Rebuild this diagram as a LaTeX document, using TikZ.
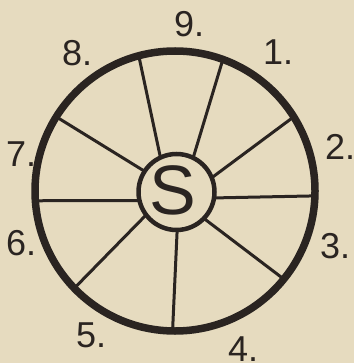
\documentclass[tikz,border=0pt]{standalone}
\usepackage{fontspec}
\setmainfont{Liberation Sans}
\definecolor{paper}{HTML}{E6DBBF}
\definecolor{ink}{HTML}{2A2421}
\begin{document}
\begin{tikzpicture}[x=1pt,y=-1pt,
  ring/.style={circle,draw=ink,inner sep=0pt,outer sep=0pt},
  spoke/.style={draw=ink,line width=3pt},
  lbl/.style={anchor=base west,inner sep=0pt,text=ink,font=\fontsize{36}{36}\selectfont}]
\fill[paper] (0,0) rectangle (354,363);
\useasboundingbox (0,0) rectangle (354,363);
\clip (0,0) rectangle (354,363);
\node[ring,line width=7.5pt,minimum size=280pt] (rim) at (175,191) {};
\node[ring,line width=4.5pt,minimum size=76pt] (hub) at (176.5,192) {};
\node[anchor=base,inner sep=0pt,text=ink,font=\fontsize{70}{70}\selectfont] (s) at (173,214) {S};
\foreach \a/\b in {105.7/115.4, 70.4/64.6, 32.8/22.3, -2.8/-9.1, -39.1/-44.5,
                   269.2/-89.2, 224.7/217.8, 184.1/193.2, 148.6/147.5}
  \draw[spoke] (hub.\b) -- (rim.\a);
\node[lbl] (n1) at (263,65) {1.};
\node[lbl] (n2) at (325,160) {2.};
\node[lbl] (n3) at (320,258) {3.};
\node[lbl] (n4) at (228,361) {4.};
\node[lbl] (n5) at (76,347) {5.};
\node[lbl] (n6) at (6,255) {6.};
\node[lbl] (n7) at (6,167) {7.};
\node[lbl] (n8) at (62,66) {8.};
\node[lbl] (n9) at (174,37) {9.};
\end{tikzpicture}
\end{document}
